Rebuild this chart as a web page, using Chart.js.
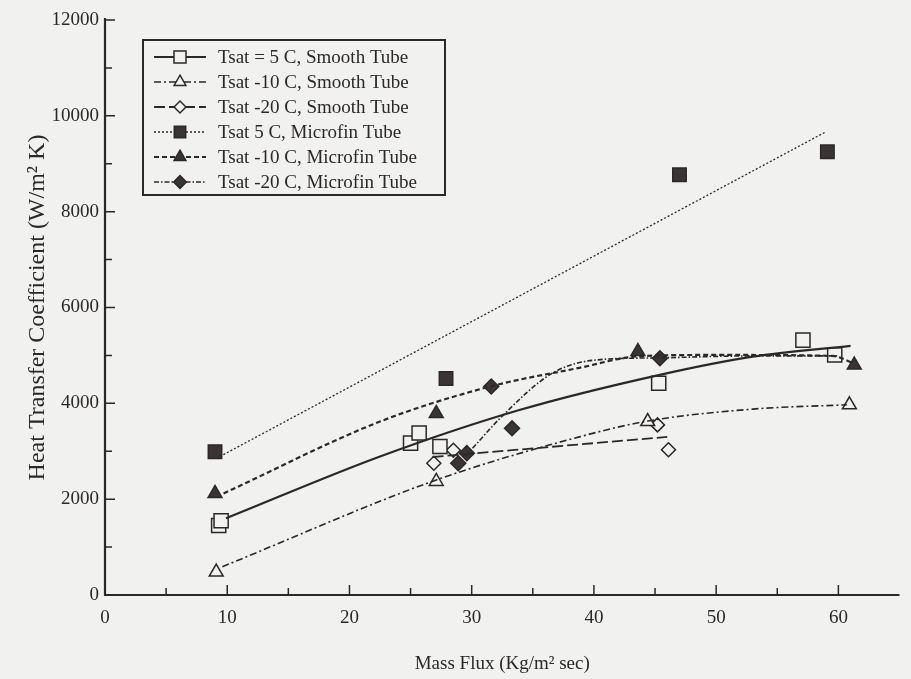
<!DOCTYPE html>
<html>
<head>
<meta charset="utf-8">
<script src="https://cdn.jsdelivr.net/npm/chart.js@4/dist/chart.umd.min.js"></script>
<style>
  html, body { margin: 0; padding: 0; background: #f1f1ef; }
  #wrap { width: 911px; height: 679px; position: relative; }
</style>
</head>
<body>
<div id="wrap"><canvas id="htcChart" width="911" height="679"></canvas></div>
<script>
// === Data ===
const seriesLabels = [
  "Tsat = 5 C, Smooth Tube",
  "Tsat -10 C, Smooth Tube",
  "Tsat -20 C, Smooth Tube",
  "Tsat 5 C, Microfin Tube",
  "Tsat -10 C, Microfin Tube",
  "Tsat -20 C, Microfin Tube"
];

// measured points (mass flux, h)
const smooth5X = [9.3, 9.5, 25.0, 25.7, 27.4, 45.3, 57.1, 59.7];
const smooth5Y = [1450, 1550, 3170, 3380, 3100, 4420, 5320, 5010];
const smooth10X = [9.1, 27.1, 44.4, 60.9];
const smooth10Y = [480, 2370, 3620, 3970];
const smooth20X = [26.9, 28.5, 45.2, 46.1];
const smooth20Y = [2750, 3020, 3550, 3030];
const micro5X = [9.0, 27.9, 47.0, 59.1];
const micro5Y = [2990, 4520, 8770, 9250];
const micro10X = [9.0, 27.1, 43.6, 61.3];
const micro10Y = [2120, 3790, 5080, 4800];
const micro20X = [28.9, 29.6, 31.6, 33.3, 45.4];
const micro20Y = [2750, 2960, 4350, 3480, 4940];

// curve fits
const fitSmooth5X = [9.9, 22.5, 33.9, 45.3, 53, 61];
const fitSmooth5Y = [1600, 2890, 3860, 4590, 4975, 5200];
const fitSmooth10X = [9.6, 27.1, 38.8, 44.4, 53, 60.7];
const fitSmooth10Y = [590, 2400, 3300, 3630, 3880, 3970];
const fitSmooth20X = [26.8, 46];
const fitSmooth20Y = [2880, 3300];
const fitMicro5X = [9.4, 59];
const fitMicro5Y = [2890, 9670];
const fitMicro10X = [9.7, 22.5, 31.5, 38.8, 43.6, 50, 59.5, 61.2];
const fitMicro10Y = [2120, 3620, 4350, 4740, 4980, 5010, 4990, 4840];
const fitMicro20X = [29.5, 32.6, 36.6, 40, 45.4, 53, 60];
const fitMicro20Y = [2900, 3760, 4630, 4900, 4950, 4990, 4990];

// axis ticks
const xLabelTicks = [0, 10, 20, 30, 40, 50, 60];
const yLabelTicks = [0, 2000, 4000, 6000, 8000, 10000, 12000];

const ink = "#2b2828";
const paper = "#f1f1ef";
const serif = "'Liberation Serif', 'DejaVu Serif', serif";

function pts(xs, ys) {
  return xs.map((x, i) => ({ x: x, y: ys[i] }));
}

// style per series: marker + line dash
const styles = [
  { marker: "rect", radius: 10, filled: false, dash: [], width: 2.2 },
  { marker: "triangle", radius: 8, filled: false, dash: [7, 3, 2, 3], width: 1.6 },
  { marker: "rectRot", radius: 7, filled: false, dash: [11, 4], width: 1.8 },
  { marker: "rect", radius: 9.5, filled: true, dash: [2, 2], width: 1.3 },
  { marker: "triangle", radius: 8, filled: true, dash: [5, 3], width: 2.2 },
  { marker: "rectRot", radius: 7.5, filled: true, dash: [5, 2, 1.5, 2], width: 1.6 }
];

const pointSets = [
  pts(smooth5X, smooth5Y), pts(smooth10X, smooth10Y), pts(smooth20X, smooth20Y),
  pts(micro5X, micro5Y), pts(micro10X, micro10Y), pts(micro20X, micro20Y)
];
const fitSets = [
  pts(fitSmooth5X, fitSmooth5Y), pts(fitSmooth10X, fitSmooth10Y), pts(fitSmooth20X, fitSmooth20Y),
  pts(fitMicro5X, fitMicro5Y), pts(fitMicro10X, fitMicro10Y), pts(fitMicro20X, fitMicro20Y)
];

const datasets = [];
fitSets.forEach((data, i) => {
  datasets.push({
    label: "fit " + i,
    data: data,
    showLine: true,
    borderColor: ink,
    borderWidth: styles[i].width,
    borderDash: styles[i].dash,
    pointRadius: 0,
    cubicInterpolationMode: "monotone",
    fill: false
  });
});
pointSets.forEach((data, i) => {
  datasets.push({
    label: seriesLabels[i],
    data: data,
    showLine: false,
    pointStyle: styles[i].marker,
    pointRadius: styles[i].radius,
    pointBorderWidth: 1.5,
    pointBorderColor: ink,
    pointBackgroundColor: styles[i].filled ? "#3a3434" : paper
  });
});

// === tick marks pointing inward + background ===
const axisMarks = {
  id: "axisMarks",
  beforeDraw(chart) {
    const c = chart.ctx;
    c.save();
    c.fillStyle = paper;
    c.fillRect(0, 0, chart.width, chart.height);
    c.restore();
  },
  afterDraw(chart) {
    const c = chart.ctx;
    const xs = chart.scales.x, ys = chart.scales.y;
    const area = chart.chartArea;
    c.save();
    c.strokeStyle = ink;
    c.lineWidth = 1.5;
    c.beginPath();
    for (let v = 1000; v <= 12000; v += 1000) {
      const py = ys.getPixelForValue(v);
      const len = v % 2000 === 0 ? 10 : 7;
      c.moveTo(area.left, py);
      c.lineTo(area.left + len, py);
    }
    for (let v = 5; v <= 60; v += 5) {
      const px = xs.getPixelForValue(v);
      const len = v % 10 === 0 ? 10 : 7;
      c.moveTo(px, area.bottom);
      c.lineTo(px, area.bottom - len);
    }
    c.stroke();
    // axes
    c.lineWidth = 2.2;
    c.beginPath();
    c.moveTo(area.left, area.top - 2);
    c.lineTo(area.left, area.bottom);
    c.lineTo(area.right, area.bottom);
    c.stroke();
    c.restore();
  }
};

// === legend box drawn inside the plot ===
const boxLegend = {
  id: "boxLegend",
  afterDraw(chart) {
    const c = chart.ctx;
    const bx = 143, by = 40, bw = 302, bh = 155;
    c.save();
    c.fillStyle = paper;
    c.fillRect(bx, by, bw, bh);
    c.strokeStyle = ink;
    c.lineWidth = 2;
    c.strokeRect(bx, by, bw, bh);
    c.font = "19px " + serif;
    c.textBaseline = "middle";
    seriesLabels.forEach((txt, i) => {
      const y = by + 17 + i * 25;
      const st = styles[i];
      c.strokeStyle = ink;
      c.lineWidth = st.width;
      c.setLineDash(st.dash);
      c.beginPath();
      c.moveTo(154, y);
      c.lineTo(206, y);
      c.stroke();
      c.setLineDash([]);
      c.fillStyle = st.filled ? "#3a3434" : paper;
      c.strokeStyle = ink;
      c.lineWidth = 1.5;
      Chart.helpers.drawPoint(c, {
        pointStyle: st.marker, rotation: 0, borderWidth: 1.5, radius: st.radius * 0.85
      }, 180, y);
      c.fillStyle = ink;
      c.fillText(txt, 218, y + 1);
    });
    c.restore();
  }
};

new Chart(document.getElementById("htcChart"), {
  type: "scatter",
  data: { datasets: datasets },
  options: {
    responsive: false,
    animation: false,
    layout: { padding: { top: 20, right: 11, left: 0, bottom: 0 } },
    scales: {
      x: {
        type: "linear",
        min: 0,
        max: 65,
        afterBuildTicks(scale) {
          scale.ticks = xLabelTicks.map(v => ({ value: v }));
        },
        afterFit(scale) { scale.height = 84; },
        grid: { display: false, drawTicks: false },
        border: { display: false },
        ticks: {
          color: ink,
          padding: 12,
          maxRotation: 0,
          callback: v => String(v),
          font: { family: serif, size: 19 }
        },
        title: {
          display: true,
          text: "Mass Flux (Kg/m² sec)",
          color: ink,
          padding: { top: 8 },
          font: { family: serif, size: 19 }
        }
      },
      y: {
        type: "linear",
        min: 0,
        max: 12000,
        afterBuildTicks(scale) {
          scale.ticks = yLabelTicks.map(v => ({ value: v }));
        },
        afterFit(scale) { scale.width = 105; },
        grid: { display: false, drawTicks: false },
        border: { display: false },
        ticks: {
          color: ink,
          padding: 6,
          callback: v => String(v),
          font: { family: serif, size: 19 }
        },
        title: {
          display: true,
          text: "Heat Transfer Coefficient (W/m² K)",
          color: ink,
          padding: { top: 23, bottom: 0 },
          font: { family: serif, size: 24 }
        }
      }
    },
    plugins: {
      legend: { display: false },
      tooltip: { enabled: false }
    }
  },
  plugins: [axisMarks, boxLegend]
});
</script>
</body>
</html>
